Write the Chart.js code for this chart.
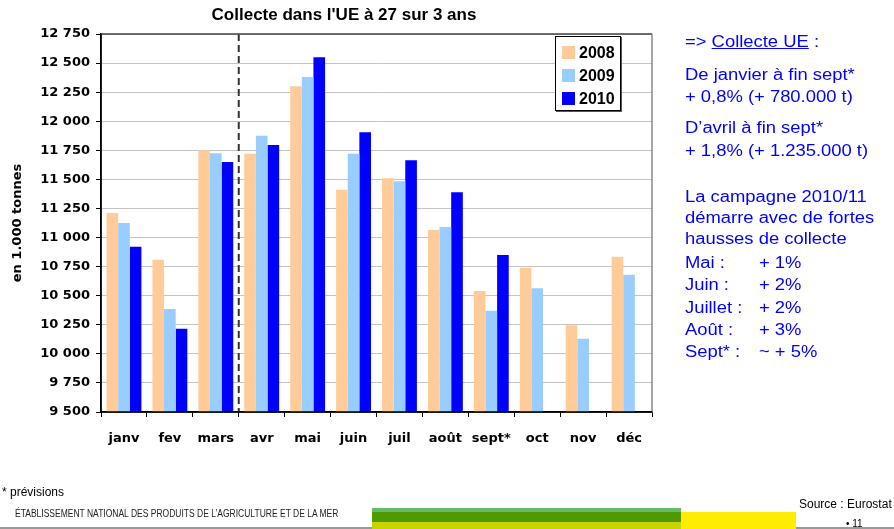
<!DOCTYPE html>
<html>
<head>
<meta charset="utf-8">
<script src="https://cdn.jsdelivr.net/npm/chart.js@4.4.0/dist/chart.umd.min.js"></script>
<style>
  html, body { margin:0; padding:0; background:#fff; }
  body { width:894px; height:529px; position:relative; overflow:hidden; font-family:"Liberation Sans", Arial, sans-serif; }
  #c { position:absolute; left:0; top:0; }
  .abs { position:absolute; white-space:nowrap; }
  #title { left:160px; top:4px; width:368px; text-align:center; font-weight:bold; font-size:17px; line-height:22px; color:#000; }
  #legend { left:555px; top:36px; width:64px; height:73px; border:1px solid #000; box-shadow:1px 1px 0 #555; background:#fff; }
  .lg { position:absolute; left:6px; height:20px; font-weight:bold; font-size:16px; line-height:20px; color:#000; }
  .lg span { display:inline-block; width:13px; height:13px; vertical-align:-1px; margin-right:4px; }
  .rt { position:absolute; font-size:16px; line-height:20px; color:#0000ff; white-space:nowrap; transform:scaleX(1.15); transform-origin:left top; }
  .foot { position:absolute; white-space:nowrap; color:#000; }
</style>
</head>
<body>
<canvas id="c" width="894" height="529"></canvas>
<div class="abs" id="title">Collecte dans l'UE à 27 sur 3 ans</div>
<div class="abs" id="legend"></div>

<div class="rt" style="left:685px;top:32px;">=&gt; <u>Collecte UE</u> :</div>
<div class="rt" style="left:685px;top:65px;">De janvier à fin sept*</div>
<div class="rt" style="left:685px;top:87px;">+ 0,8% (+ 780.000 t)</div>
<div class="rt" style="left:685px;top:118px;">D’avril à fin sept*</div>
<div class="rt" style="left:685px;top:141px;">+ 1,8% (+ 1.235.000 t)</div>
<div class="rt" style="left:685px;top:187px;">La campagne 2010/11</div>
<div class="rt" style="left:685px;top:208px;">démarre avec de fortes</div>
<div class="rt" style="left:685px;top:229px;">hausses de collecte</div>
<div class="rt" style="left:685px;top:253px;">Mai :</div><div class="rt" style="left:759px;top:253px;">+ 1%</div>
<div class="rt" style="left:685px;top:275px;">Juin :</div><div class="rt" style="left:759px;top:275px;">+ 2%</div>
<div class="rt" style="left:685px;top:298px;">Juillet :</div><div class="rt" style="left:759px;top:298px;">+ 2%</div>
<div class="rt" style="left:685px;top:320px;">Août :</div><div class="rt" style="left:759px;top:320px;">+ 3%</div>
<div class="rt" style="left:685px;top:342px;">Sept* :</div><div class="rt" style="left:759px;top:342px;">~ + 5%</div>

<div class="foot" style="left:2px;top:485px;font-size:12px;line-height:14px;">* prévisions</div>
<div class="foot" style="left:15px;top:508px;font-size:10px;line-height:12px;transform:scaleX(0.85);transform-origin:left top;color:#222;">ÉTABLISSEMENT NATIONAL DES PRODUITS DE L’AGRICULTURE ET DE LA MER</div>
<div class="abs" style="left:0;top:527px;width:894px;height:2px;background:#999;"></div>
<div class="abs" style="left:372px;top:508px;width:309px;height:4px;background:#66bb66;"></div>
<div class="abs" style="left:372px;top:512px;width:309px;height:10px;background:#4f9a00;"></div>
<div class="abs" style="left:372px;top:522px;width:309px;height:7px;background:#c8d400;"></div>
<div class="abs" style="left:681px;top:512px;width:115px;height:17px;background:#ffec00;"></div>
<div class="foot" style="left:799px;top:497px;font-size:12px;line-height:15px;">Source : Eurostat</div>
<div class="foot" style="left:846px;top:517px;font-size:10px;line-height:13px;">• 11</div>

<script>
const months = ['janv','fev','mars','avr','mai','juin','juil','août','sept*','oct','nov','déc'];
const seriesNames = ['2008','2009','2010'];
const seriesColors = ['#FFCC99','#99CCFF','#0000FF'];
const y2008 = [11210,10810,11750,11720,12300,11410,11510,11065,10540,10740,10245,10835];
const y2009 = [11125,10385,11725,11875,12380,11720,11485,11090,10370,10565,10130,10680];
const y2010 = [10920,10215,11650,11795,12550,11905,11665,11390,10850,null,null,null];
const yMin = 9500, yMax = 12750, yStep = 250;
const yTitle = 'en 1.000 tonnes';

const seriesValues = [y2008, y2009, y2010];

const lg = document.getElementById('legend');
seriesNames.forEach((n,i)=>{
  const d = document.createElement('div');
  d.className = 'lg';
  d.style.top = (6 + i*23) + 'px';
  d.innerHTML = '<span style="background:'+seriesColors[i]+'"></span>' + n;
  lg.appendChild(d);
});

function fmt(v){
  if (v >= 1000) return Math.floor(v/1000) + ' ' + String(v%1000).padStart(3,'0');
  return String(v);
}

const frame = {
  id:'frame',
  afterDatasetsDraw(chart){
    const {ctx, chartArea:a, scales:{x}} = chart;
    ctx.save();
    const xs = (x.getPixelForValue(2) + x.getPixelForValue(3)) / 2;
    ctx.strokeStyle = '#333';
    ctx.lineWidth = 2;
    ctx.setLineDash([7,4]);
    ctx.beginPath(); ctx.moveTo(xs, a.top); ctx.lineTo(xs, a.bottom); ctx.stroke();
    ctx.setLineDash([]);
    ctx.lineWidth = 1.5;
    ctx.strokeStyle = '#444';
    ctx.beginPath(); ctx.moveTo(a.left, a.top); ctx.lineTo(a.right, a.top); ctx.stroke();
    ctx.strokeStyle = '#888';
    ctx.beginPath(); ctx.moveTo(a.right, a.top); ctx.lineTo(a.right, a.bottom); ctx.stroke();
    ctx.strokeStyle = '#000';
    ctx.beginPath(); ctx.moveTo(a.left, a.top); ctx.lineTo(a.left, a.bottom); ctx.lineTo(a.right, a.bottom); ctx.stroke();
    ctx.restore();
  }
};
const bg = {
  id:'bg',
  beforeDraw(chart){
    const ctx = chart.ctx; ctx.save(); ctx.fillStyle='#fff'; ctx.fillRect(0,0,chart.width,chart.height); ctx.restore();
  }
};

const font = {family:'"DejaVu Sans", sans-serif', size:13, weight:'bold'};

new Chart(document.getElementById('c'), {
  type:'bar',
  data:{
    labels: months,
    datasets: seriesNames.map((n,i)=>({
      label:n, data:seriesValues[i], backgroundColor:seriesColors[i], borderWidth:0,
      categoryPercentage:0.76, barPercentage:1.0
    }))
  },
  options:{
    responsive:false, animation:false, devicePixelRatio:1,
    layout:{padding:{top:34, right:242, bottom:0, left:0}},
    plugins:{legend:{display:false}, title:{display:false}, tooltip:{enabled:false}},
    scales:{
      x:{
        grid:{drawOnChartArea:false, drawTicks:true, tickLength:5, tickColor:'#000', offset:true},
        border:{display:true, color:'#000', width:1.5},
        ticks:{font, color:'#000', padding:14, maxRotation:0, autoSkip:false},
        afterFit(s){ s.height = 117; }
      },
      y:{
        min:yMin, max:yMax,
        grid:{color:'#c4c4c4', lineWidth:1, drawTicks:true, tickLength:5, tickColor:'#000'},
        border:{display:true, color:'#000', width:1.5},
        ticks:{stepSize:yStep, font, color:'#000', padding:6, callback:(v)=>fmt(v)},
        title:{display:true, text:yTitle, font, color:'#000', padding:{top:10, bottom:0}},
        afterFit(s){ s.width = 101; }
      }
    }
  },
  plugins:[bg, frame]
});
</script>
</body>
</html>
